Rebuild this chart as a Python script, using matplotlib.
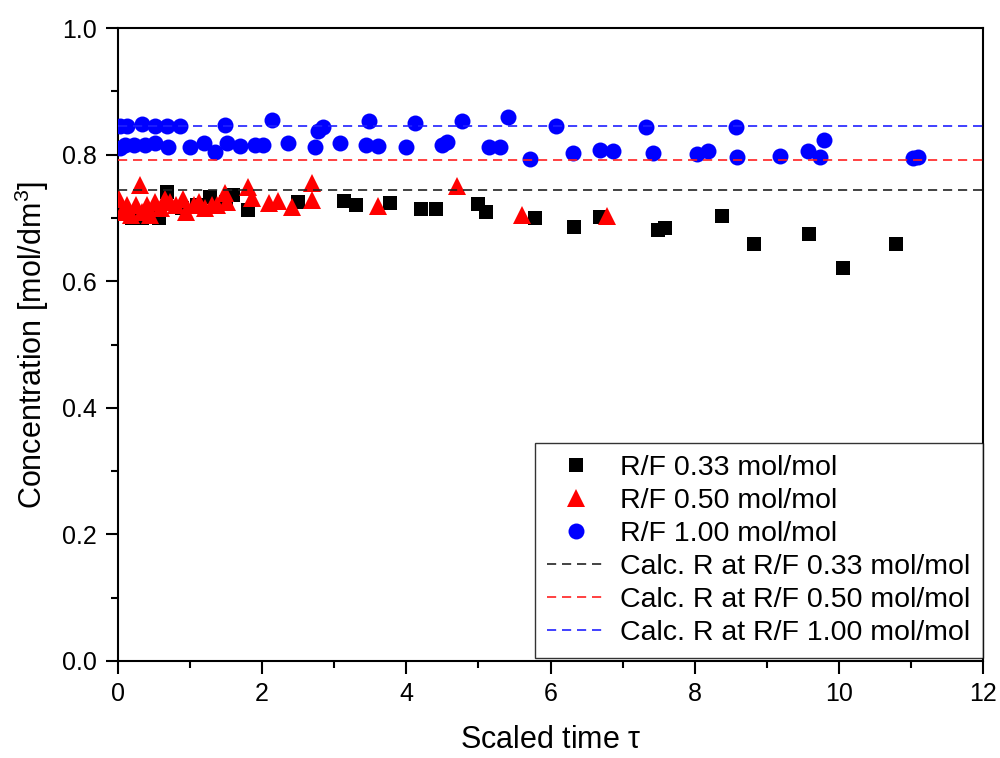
import numpy as np
import matplotlib
matplotlib.use("Agg")
import matplotlib.pyplot as plt
from matplotlib.ticker import MultipleLocator

plt.rcParams['font.family'] = ['Liberation Sans', 'DejaVu Sans']
plt.rcParams['mathtext.default'] = 'regular'

# R/F 0.33 mol/mol (black squares)
x_033 = [0.05, 0.19, 0.33, 0.45, 0.57, 0.68, 0.89, 1.10, 1.28, 1.50, 1.60, 1.80,
         2.50, 3.14, 3.30, 3.77, 4.20, 4.41, 4.99, 5.10, 5.79, 6.33, 6.69,
         7.49, 7.59, 8.38, 8.82, 9.59, 10.06, 10.79]
y_033 = [0.710, 0.700, 0.700, 0.710, 0.700, 0.741, 0.716, 0.720, 0.733, 0.725, 0.736, 0.712,
         0.725, 0.727, 0.720, 0.723, 0.714, 0.714, 0.722, 0.709, 0.700, 0.686, 0.702,
         0.681, 0.684, 0.703, 0.659, 0.675, 0.621, 0.659]

# R/F 0.50 mol/mol (red triangles)
x_050 = [0.02, 0.05, 0.12, 0.18, 0.25, 0.31, 0.33, 0.40, 0.45, 0.52, 0.60, 0.65,
         0.72, 0.80, 0.90, 0.95, 1.05, 1.12, 1.20, 1.30, 1.38, 1.48, 1.51, 1.80,
         1.86, 2.10, 2.22, 2.42, 2.69, 2.69, 3.61, 4.70, 5.60, 6.78]
y_050 = [0.730, 0.710, 0.720, 0.705, 0.720, 0.752, 0.710, 0.720, 0.705, 0.725, 0.715, 0.730,
         0.725, 0.720, 0.730, 0.710, 0.720, 0.725, 0.715, 0.720, 0.720, 0.740, 0.725, 0.749,
         0.732, 0.724, 0.727, 0.717, 0.755, 0.728, 0.719, 0.750, 0.705, 0.703]

# R/F 1.00 mol/mol (blue circles)
x_100 = [0.03, 0.12, 0.33, 0.51, 0.68, 0.86, 1.48, 2.14, 2.78, 2.85, 3.48, 4.12,
         4.77, 5.41, 6.08, 7.33, 8.57,
         0.03, 0.10, 0.22, 0.37, 0.51, 0.70, 1.00, 1.19, 1.35, 1.51, 1.69, 1.90,
         2.01, 2.36, 2.73, 3.08, 3.44, 3.61, 4.00, 4.50, 4.56, 5.15, 5.30, 5.72,
         6.31, 6.69, 6.87, 7.42, 8.03, 8.19, 8.59, 9.18, 9.57, 9.74, 9.79, 11.03, 11.10]
y_100 = [0.845, 0.845, 0.848, 0.845, 0.845, 0.845, 0.847, 0.855, 0.838, 0.843, 0.853, 0.850,
         0.853, 0.859, 0.845, 0.844, 0.844,
         0.810, 0.815, 0.815, 0.815, 0.818, 0.812, 0.812, 0.818, 0.804, 0.818, 0.814, 0.815,
         0.815, 0.818, 0.812, 0.818, 0.815, 0.814, 0.812, 0.815, 0.820, 0.812, 0.812, 0.793,
         0.803, 0.807, 0.806, 0.803, 0.801, 0.806, 0.797, 0.798, 0.806, 0.796, 0.823, 0.794, 0.796]

# calculated values
calc_033 = 0.744
calc_050 = 0.791
calc_100 = 0.845

fig = plt.figure(figsize=(10, 7.58), dpi=100)
ax = fig.add_axes([0.118, 0.128, 0.865, 0.835])

ax.plot(x_033, y_033, ls='none', marker='s', ms=9.8, mew=0, color='black',
        label='R/F 0.33 mol/mol', zorder=3)
ax.plot(x_050, y_050, ls='none', marker='^', ms=12.5, mew=0, color='red',
        label='R/F 0.50 mol/mol', zorder=4)
ax.plot(x_100, y_100, ls='none', marker='o', ms=11.5, mew=0, color='blue',
        label='R/F 1.00 mol/mol', zorder=3)

for val, col, rf in [(calc_033, '#222222', '0.33'), (calc_050, '#ff2020', '0.50'),
                     (calc_100, '#2020ff', '1.00')]:
    ax.plot([0, 12], [val, val], color=col, lw=1.2, dashes=(5.5, 3.5),
            label='Calc. R at R/F ' + rf + ' mol/mol', zorder=5)

ax.set_xlim(0, 12)
ax.set_ylim(0, 1.0)
ax.xaxis.set_major_locator(MultipleLocator(2))
ax.xaxis.set_minor_locator(MultipleLocator(1))
ax.yaxis.set_major_locator(MultipleLocator(0.2))
ax.yaxis.set_minor_locator(MultipleLocator(0.1))
ax.yaxis.set_major_formatter(plt.FormatStrFormatter('%.1f'))
ax.tick_params(which='major', direction='out', length=9, width=1.5, labelsize=18, pad=6)
ax.tick_params(which='minor', direction='out', length=5, width=1.5)
for s in ax.spines.values():
    s.set_linewidth(1.5)

ax.set_xlabel(r'Scaled time $\tau$', fontsize=22, labelpad=14)
ax.set_ylabel('Concentration [mol/dm$^3$]', fontsize=22, labelpad=8)

leg = ax.legend(loc='lower right', bbox_to_anchor=(1.0, 0.004), borderaxespad=0,
                fontsize=20.5, frameon=True, fancybox=False, edgecolor='black',
                labelspacing=0.24, handlelength=2.0, handletextpad=0.55,
                borderpad=0.45, numpoints=1)
leg.get_frame().set_linewidth(1.0)

fig.savefig('out.png', dpi=100)
